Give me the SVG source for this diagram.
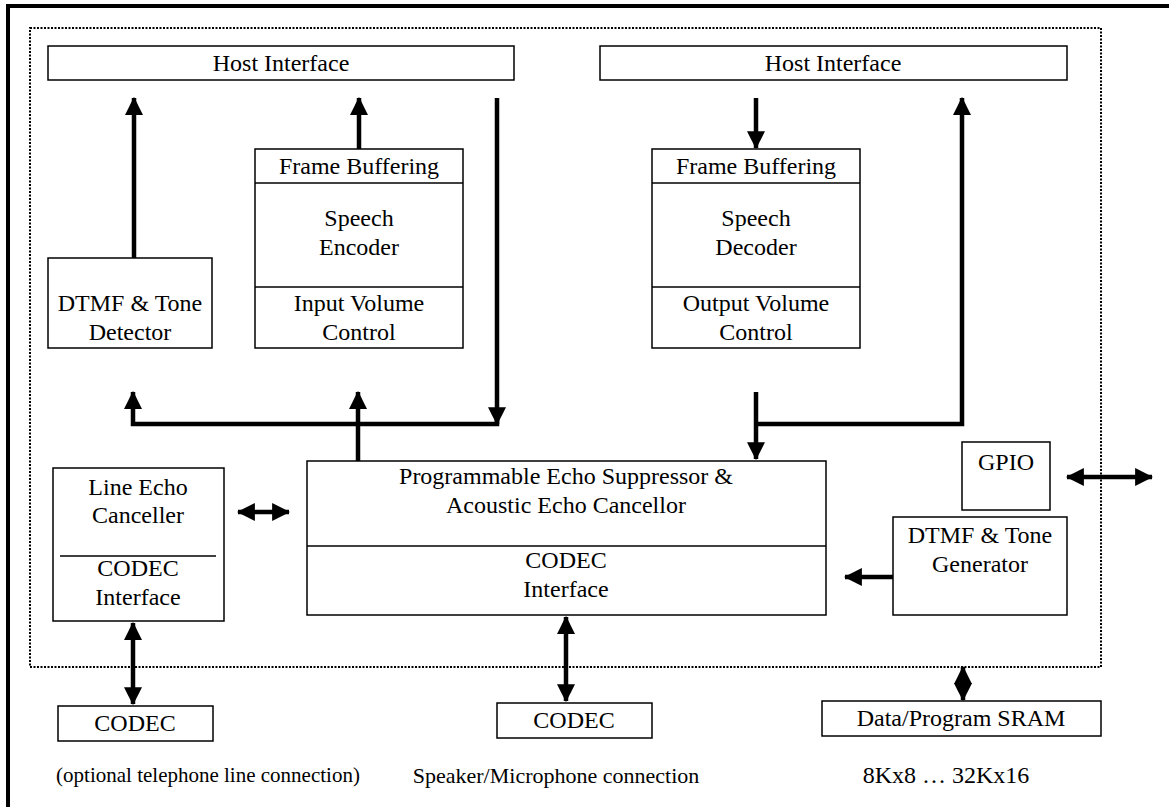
<svg xmlns="http://www.w3.org/2000/svg" width="1169" height="807" viewBox="0 0 1169 807">
<style>
.box{fill:#fff;stroke:#000;stroke-width:1.5}
.div{stroke:#000;stroke-width:1.5}
.t{font-family:"Liberation Serif","Times New Roman",serif;font-size:24px;fill:#000;text-anchor:middle;dominant-baseline:central}
.n{font-size:22px}
.w{fill:none;stroke:#000;stroke-width:4.5}
</style>
<defs>
<marker id="ah" markerUnits="userSpaceOnUse" markerWidth="18" markerHeight="18" viewBox="0 0 16 16" refX="15" refY="8" orient="auto-start-reverse">
<path d="M0,0 L16,8 L0,16 Z" fill="#000"/>
</marker>
</defs>
<rect width="1169" height="807" fill="#fff"/>
<g id="frame">
<line x1="6" y1="6" x2="1169" y2="6" stroke="#000" stroke-width="4"/>
<line x1="8" y1="4" x2="8" y2="807" stroke="#000" stroke-width="4"/>
<rect x="30" y="28" width="1071" height="639" fill="none" stroke="#000" stroke-width="2" stroke-dasharray="2,1.5"/>
</g>
<g id="host1"><rect class="box" x="48" y="46" width="466" height="34"/><text class="t" x="281" y="63">Host Interface</text></g>
<g id="host2"><rect class="box" x="600" y="46" width="467" height="34"/><text class="t" x="833" y="63">Host Interface</text></g>
<g id="encoder"><rect class="box" x="255" y="149" width="208" height="199"/>
<line class="div" x1="255" y1="183" x2="463" y2="183"/><line class="div" x1="255" y1="287" x2="463" y2="287"/>
<text class="t" x="359" y="166">Frame Buffering</text>
<text class="t" x="359" y="218">Speech</text><text class="t" x="359" y="247">Encoder</text>
<text class="t" x="359" y="303">Input Volume</text><text class="t" x="359" y="332">Control</text></g>
<g id="decoder"><rect class="box" x="652" y="149" width="208" height="199"/>
<line class="div" x1="652" y1="183" x2="860" y2="183"/><line class="div" x1="652" y1="287" x2="860" y2="287"/>
<text class="t" x="756" y="166">Frame Buffering</text>
<text class="t" x="756" y="218">Speech</text><text class="t" x="756" y="247">Decoder</text>
<text class="t" x="756" y="303">Output Volume</text><text class="t" x="756" y="332">Control</text></g>
<g id="detector"><rect class="box" x="48" y="258" width="164" height="90"/>
<text class="t" x="130" y="303">DTMF &amp; Tone</text><text class="t" x="130" y="332">Detector</text></g>
<g id="echo"><rect class="box" x="307" y="461" width="519" height="154"/>
<line class="div" x1="307" y1="546" x2="826" y2="546"/>
<text class="t" x="566" y="476">Programmable Echo Suppressor &amp;</text>
<text class="t" x="566" y="505">Acoustic Echo Cancellor</text>
<text class="t" x="566" y="560">CODEC</text><text class="t" x="566" y="589">Interface</text></g>
<g id="lineecho"><rect class="box" x="53" y="468" width="171" height="153"/>
<line class="div" x1="60" y1="556" x2="216" y2="556"/>
<text class="t" x="138" y="487">Line Echo</text><text class="t" x="138" y="515">Canceller</text>
<text class="t" x="138" y="568">CODEC</text><text class="t" x="138" y="597">Interface</text></g>
<g id="gpio"><rect class="box" x="962" y="442" width="88" height="68"/><text class="t" x="1006" y="462">GPIO</text></g>
<g id="generator"><rect class="box" x="893" y="517" width="174" height="98"/>
<text class="t" x="980" y="535">DTMF &amp; Tone</text><text class="t" x="980" y="564">Generator</text></g>
<g id="codec1"><rect class="box" x="58" y="706" width="155" height="35"/><text class="t" x="135" y="723">CODEC</text></g>
<g id="codec2"><rect class="box" x="497" y="703" width="155" height="35"/><text class="t" x="574" y="720">CODEC</text></g>
<g id="sram"><rect class="box" x="822" y="701" width="279" height="35"/><text class="t" x="961" y="718">Data/Program SRAM</text></g>
<g id="notes">
<text class="t n" x="208" y="775" style="font-size:21px">(optional telephone line connection)</text>
<text class="t n" x="556" y="775">Speaker/Microphone connection</text>
<text class="t" x="946" y="775">8Kx8 … 32Kx16</text>
</g>
<g id="connectors">
<line class="w" x1="134" y1="258" x2="134" y2="98" marker-end="url(#ah)"/>
<line class="w" x1="359" y1="149" x2="359" y2="98" marker-end="url(#ah)"/>
<line class="w" x1="756" y1="98" x2="756" y2="148" marker-end="url(#ah)"/>
<polyline class="w" points="497,98 497,424 133,424 133,392" marker-end="url(#ah)"/>
<line class="w" x1="497" y1="409" x2="497" y2="424" marker-end="url(#ah)"/>
<line class="w" x1="358" y1="461" x2="358" y2="392" marker-end="url(#ah)"/>
<polyline class="w" points="756,392 756,459" marker-end="url(#ah)"/>
<polyline class="w" points="756,424 962,424 962,98" marker-end="url(#ah)"/>
<line class="w" x1="238" y1="512" x2="289" y2="512" marker-start="url(#ah)" marker-end="url(#ah)"/>
<line class="w" x1="1067" y1="477" x2="1152" y2="477" marker-start="url(#ah)" marker-end="url(#ah)"/>
<line class="w" x1="893" y1="577" x2="845" y2="577" marker-end="url(#ah)"/>
<line class="w" x1="133" y1="623" x2="133" y2="704" marker-start="url(#ah)" marker-end="url(#ah)"/>
<line class="w" x1="566" y1="617" x2="566" y2="701" marker-start="url(#ah)" marker-end="url(#ah)"/>
<line class="w" x1="963" y1="667" x2="963" y2="700" marker-start="url(#ah)" marker-end="url(#ah)"/>
</g>
</svg>
